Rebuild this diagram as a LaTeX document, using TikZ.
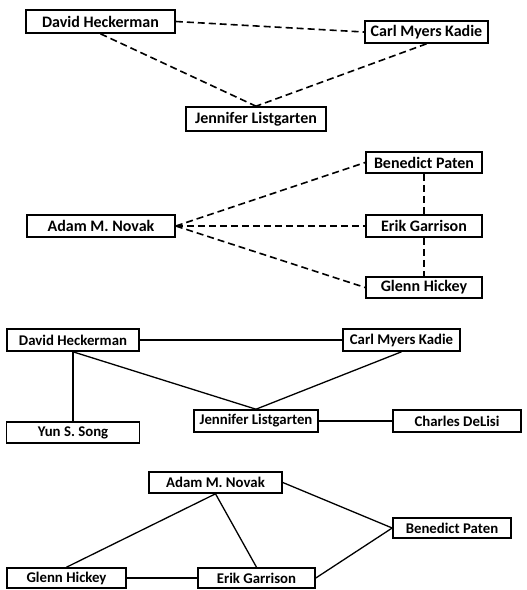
\documentclass[tikz,border=0pt]{standalone}
\usepackage{fontspec}
\setmainfont{Carlito}
\begin{document}
\begin{tikzpicture}[x=1pt,y=-1pt,
  box/.style={draw, line width=1.6pt, inner sep=0pt, fill=white,
    font=\fontsize{14.8}{17}\selectfont\bfseries},
  bigbox/.style={box, font=\fontsize{16}{18}\selectfont\bfseries},
  dline/.style={line width=1.6pt, dash pattern=on 7pt off 4pt},
  sline/.style={line width=1.3pt}]
\useasboundingbox (0,0) rectangle (527,590);
% Section 1
\node[bigbox, minimum width=149pt, minimum height=23pt] (dh1) at (100.5,21.5) {David Heckerman};
\node[bigbox, minimum width=123pt, minimum height=22pt] (cmk1) at (426.5,32) {Carl Myers Kadie};
\node[bigbox, minimum width=140pt, minimum height=24pt] (jl1) at (256,119) {Jennifer Listgarten};
\draw[dline] (dh1.east) -- (cmk1.west);
\draw[dline] (dh1.south) -- (jl1.north);
\draw[dline] (cmk1.south) -- (jl1.north);
% Section 2
\node[bigbox, minimum width=116pt, minimum height=21pt] (bp2) at (424,162.5) {Benedict Paten};
\node[bigbox, minimum width=148pt, minimum height=22pt] (amn2) at (101,226) {Adam M. Novak};
\node[bigbox, minimum width=116pt, minimum height=22pt] (eg2) at (424,226) {Erik Garrison};
\node[bigbox, minimum width=116pt, minimum height=21pt] (gh2) at (424,287.5) {Glenn Hickey};
\draw[dline] (amn2.east) -- (bp2.west);
\draw[dline] (amn2.east) -- (eg2.west);
\draw[dline] (amn2.east) -- (gh2.west);
\draw[dline] (bp2.south) -- (eg2.north);
\draw[dline] (eg2.south) -- (gh2.north);
% Section 3
\node[box, minimum width=132pt, minimum height=22pt] (dh3) at (73,340) {David Heckerman};
\node[box, minimum width=117pt, minimum height=22pt] (cmk3) at (401.5,340) {Carl Myers Kadie};
\node[box, minimum width=124pt, minimum height=22pt] (jl3) at (256,421) {Jennifer Listgarten};
\node[box, minimum width=128pt, minimum height=22pt] (cd3) at (457,421) {Charles DeLisi};
\node[box, minimum width=133pt, minimum height=21pt] (yss3) at (73,432.5) {Yun S. Song};
\draw[sline] (dh3.east) -- (cmk3.west);
\draw[sline] (dh3.south) -- (yss3.north);
\draw[sline] (dh3.south) -- (jl3.north);
\draw[sline] (cmk3.south) -- (jl3.north);
\draw[sline] (jl3.east) -- (cd3.west);
% Section 4
\node[box, minimum width=133pt, minimum height=21pt] (amn4) at (215.5,482.5) {Adam M. Novak};
\node[box, minimum width=118pt, minimum height=20pt] (bp4) at (452,528) {Benedict Paten};
\node[box, minimum width=119pt, minimum height=20pt] (gh4) at (66.5,578) {Glenn Hickey};
\node[box, minimum width=117pt, minimum height=20pt] (eg4) at (256.5,578) {Erik Garrison};
\draw[sline] (amn4.south) -- (gh4.north);
\draw[sline] (amn4.south) -- (eg4.north);
\draw[sline] (amn4.east) -- (bp4.west);
\draw[sline] (eg4.east) -- (bp4.west);
\draw[sline] (gh4.east) -- (eg4.west);
\end{tikzpicture}
\end{document}
